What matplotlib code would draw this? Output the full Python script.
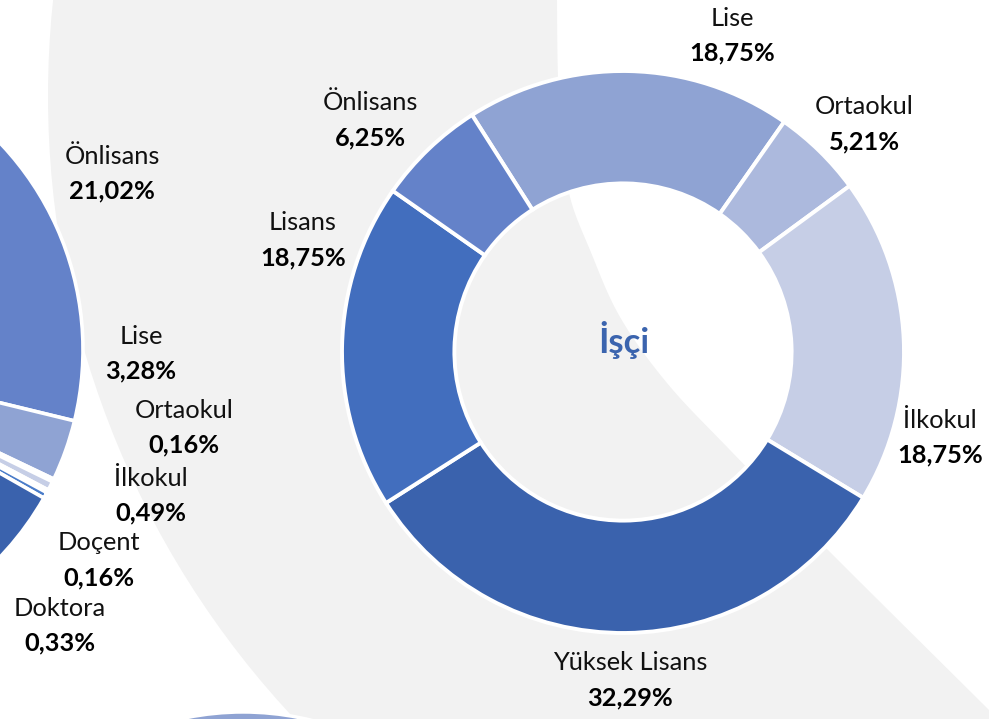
import numpy as np
import matplotlib
matplotlib.use("Agg")
import matplotlib.pyplot as plt
from matplotlib.patches import Circle, PathPatch
from matplotlib.path import Path

plt.rcParams['font.family'] = ['Lato', 'DejaVu Sans']

# ---------------- data ----------------
# right donut (İşçi), clockwise order as drawn
isci_labels = ["Lise", "Ortaokul", "İlkokul", "Yüksek Lisans", "Lisans", "Önlisans"]
isci_values = [18.75, 5.21, 18.75, 32.29, 18.75, 6.25]
isci_title = "İşçi"

# left pie (partially visible), clockwise order as drawn
left_labels = ["Önlisans", "Lise", "Ortaokul", "İlkokul", "Doçent", "Doktora", "Yüksek Lisans", "Lisans"]
left_values = [21.02, 3.28, 0.16, 0.49, 0.16, 0.33, 27.54, 47.02]
left_shown = ["Önlisans", "Lise", "Ortaokul", "İlkokul", "Doçent", "Doktora"]

# ---------------- style ----------------
colors = {
    "Önlisans": "#6482c9",
    "Lise": "#8fa3d3",
    "Ortaokul": "#acb9dd",
    "İlkokul": "#c6cee6",
    "Doçent": "#5b9bd5",
    "Doktora": "#4a7cc9",
    "Yüksek Lisans": "#3a62ad",
    "Lisans": "#426ebe",
}

W, H = 989, 719
fig = plt.figure(figsize=(W / 100, H / 100), dpi=100)
ax = fig.add_axes([0, 0, 1, 1])


def Y(ypx):
    return H - ypx


def fmt(v):
    return f"{v:.2f}".replace(".", ",") + "%"


# background: big light gray shape with white top-right region
ax.add_patch(Circle((958, Y(96)), 910, fc="#f2f2f2", ec="none", zorder=0))

pts = np.array([(557, -30), (557, 0), (558, 77), (562, 140), (570, 197), (590, 250),
                (620, 317), (667, 383), (730, 450), (828, 550), (989, 710), (1040, 761)], float)


def catmull(p, n=20):
    out = []
    for i in range(len(p) - 1):
        p0 = p[max(i - 1, 0)]
        p1 = p[i]
        p2 = p[i + 1]
        p3 = p[min(i + 2, len(p) - 1)]
        for t in np.linspace(0, 1, n, endpoint=False):
            t2, t3 = t * t, t * t * t
            out.append(0.5 * ((2 * p1) + (-p0 + p2) * t + (2 * p0 - 5 * p1 + 4 * p2 - p3) * t2
                              + (-p0 + 3 * p1 - 3 * p2 + p3) * t3))
    out.append(p[-1])
    return np.array(out)


curve = catmull(pts)
poly = np.vstack([curve, [(1060, 761), (1060, -30)]])
poly[:, 1] = H - poly[:, 1]
ax.add_patch(PathPatch(Path(np.vstack([poly, poly[:1]]), closed=True), fc="white", ec="none", zorder=1))

# bottom partially visible pie
ax.add_patch(Circle((243, Y(999)), 287, fc=colors["Lise"], ec="white", lw=2.5, zorder=2))

# left pie
lc, lr = (-217, Y(350)), 300
ax.pie(left_values, colors=[colors[c] for c in left_labels], startangle=62, counterclock=False,
       radius=lr, center=lc, frame=True,
       wedgeprops=dict(width=lr * 0.4, edgecolor="white", linewidth=2.6))

# right donut
rc, rr = (623, Y(352)), 281
ax.pie(isci_values, colors=[colors[c] for c in isci_labels], startangle=122.5, counterclock=False,
       radius=rr, center=rc, frame=True,
       wedgeprops=dict(width=rr * 0.4, edgecolor="white", linewidth=2.8))

ax.text(624, Y(340), isci_title, ha="center", va="center", fontsize=25, fontweight="bold",
        color="#3b64ae", zorder=10)

# label layout (pixel centers of the name line)
right_pos = {"Lise": (732, 18), "Ortaokul": (864, 107), "İlkokul": (940, 420),
             "Yüksek Lisans": (630, 663), "Lisans": (303, 223), "Önlisans": (370, 103)}
left_pos = {"Önlisans": (112, 156), "Lise": (141, 336), "Ortaokul": (184, 410),
            "İlkokul": (151, 478), "Doçent": (99, 543), "Doktora": (60, 608)}
fs = 18.3
gap = 35


def put(name, val, xy):
    x, y = xy
    ax.text(x, Y(y), name, ha="center", va="center", fontsize=fs, color="#111111", zorder=10)
    ax.text(x, Y(y + gap), fmt(val), ha="center", va="center", fontsize=fs, fontweight="bold",
            color="#000000", zorder=10)


for n, v in zip(isci_labels, isci_values):
    put(n, v, right_pos[n])
for n, v in zip(left_labels, left_values):
    if n in left_shown:
        put(n, v, left_pos[n])

ax.set_xlim(0, W)
ax.set_ylim(0, H)
ax.set_aspect("equal")
ax.axis("off")
fig.savefig("out.png", dpi=100)
